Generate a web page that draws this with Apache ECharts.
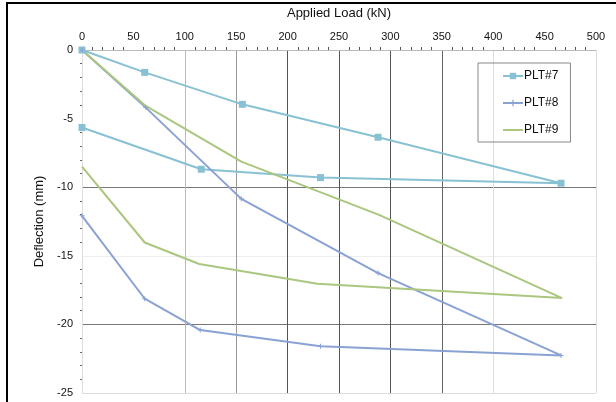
<!DOCTYPE html>
<html>
<head>
<meta charset="utf-8">
<script src="https://cdn.jsdelivr.net/npm/echarts@6/dist/echarts.min.js"></script>
<style>
  html, body { margin: 0; padding: 0; background: #fff; }
  #main { width: 616px; height: 402px; }
</style>
</head>
<body>
<div id="main"></div>
<script>
// data: load (kN) out and back, deflection (mm)
var plt7Load = [0, 61, 156, 288, 466, 232, 116, 0];
var plt7Defl = [0, -1.63, -3.96, -6.36, -9.71, -9.30, -8.69, -5.65];

var plt8Load = [0, 62, 155, 288, 466, 232, 115, 61, 0];
var plt8Defl = [0, -4.2, -10.85, -16.26, -22.26, -21.6, -20.41, -18.13, -12.09];

var plt9Load = [0, 62, 155, 289, 467, 229, 114, 61, 0];
var plt9Defl = [0, -4.08, -8.14, -12.02, -18.08, -17.04, -15.6, -14.03, -8.5];

var seriesNames = ['PLT#7', 'PLT#8', 'PLT#9'];
var xTicks = { min: 0, max: 500, step: 50 };
var yTicks = { min: -25, max: 0, step: 5 };

function pairs(xs, ys) {
  return xs.map(function (x, i) { return [x, ys[i]]; });
}

var myChart = echarts.init(document.getElementById('main'));
var font = 'Liberation Sans, Arial, sans-serif';

var option = {
  backgroundColor: '#fff',
  animation: false,
  textStyle: { fontFamily: font },
  graphic: [{
    type: 'rect',
    shape: { x: 7, y: 3, width: 700, height: 500 },
    style: { fill: 'none', stroke: '#000', lineWidth: 2 },
    silent: true
  }],
  grid: { left: 82, right: 20, top: 50, bottom: 9, outerBoundsMode: 'none' },
  legend: {
    data: [
      { name: seriesNames[0] },
      { name: seriesNames[1] },
      { name: seriesNames[2], itemStyle: { opacity: 0 } }
    ],
    orient: 'vertical',
    left: 478,
    top: 63,
    width: 108,
    padding: [7, 12, 6, 24],
    itemGap: 15,
    itemWidth: 20,
    itemHeight: 8,
    borderColor: '#888',
    borderWidth: 1,
    textStyle: { fontSize: 12, color: '#111', padding: [0, 0, 0, -4] }
  },
  xAxis: {
    type: 'value',
    position: 'top',
    min: xTicks.min,
    max: xTicks.max,
    interval: xTicks.step,
    name: 'Applied Load (kN)',
    nameLocation: 'middle',
    nameGap: 30,
    nameTextStyle: { fontSize: 13, color: '#111' },
    axisLine: { show: true, lineStyle: { color: '#bbb', width: 1 } },
    axisTick: { show: false },
    minorTick: { show: true, splitNumber: 5, length: 3, lineStyle: { color: '#555' } },
    axisLabel: { fontSize: 11, color: '#111', margin: 8 },
    splitLine: {
      show: true,
      lineStyle: {
        width: 1,
        color: ['#ddd', 'rgba(0,0,0,0)', '#bbb', '#999', '#555', '#555', '#555', '#666', '#ddd', 'rgba(0,0,0,0)', '#ddd']
      }
    }
  },
  yAxis: {
    type: 'value',
    min: yTicks.min,
    max: yTicks.max,
    interval: yTicks.step,
    name: 'Deflection (mm)',
    nameLocation: 'middle',
    nameGap: 31,
    nameTextStyle: { fontSize: 13, color: '#111' },
    axisLine: { show: true, lineStyle: { color: '#ddd', width: 1 } },
    axisTick: { show: false },
    minorTick: { show: true, splitNumber: 5, length: 2, lineStyle: { color: '#666' } },
    axisLabel: { fontSize: 11, color: '#111', margin: 9 },
    splitLine: {
      show: true,
      lineStyle: {
        width: 1,
        color: ['#ddd', '#777', '#eee', '#777', 'rgba(0,0,0,0)', '#ccc']
      }
    }
  },
  series: [
    {
      name: 'PLT#7',
      type: 'line',
      data: pairs(plt7Load, plt7Defl),
      symbol: 'rect',
      symbolSize: 7,
      color: '#88c1d4',
      lineStyle: { width: 2 }
    },
    {
      name: 'PLT#8',
      type: 'line',
      data: pairs(plt8Load, plt8Defl),
      symbol: 'path://M0,4h10v2h-10z M4,0h2v10h-2z',
      symbolSize: 5,
      color: '#89a2d3',
      lineStyle: { width: 2 }
    },
    {
      name: 'PLT#9',
      type: 'line',
      data: pairs(plt9Load, plt9Defl),
      symbol: 'none',
      color: '#aac67f',
      lineStyle: { width: 2 }
    }
  ]
};

myChart.setOption(option);
</script>
</body>
</html>
